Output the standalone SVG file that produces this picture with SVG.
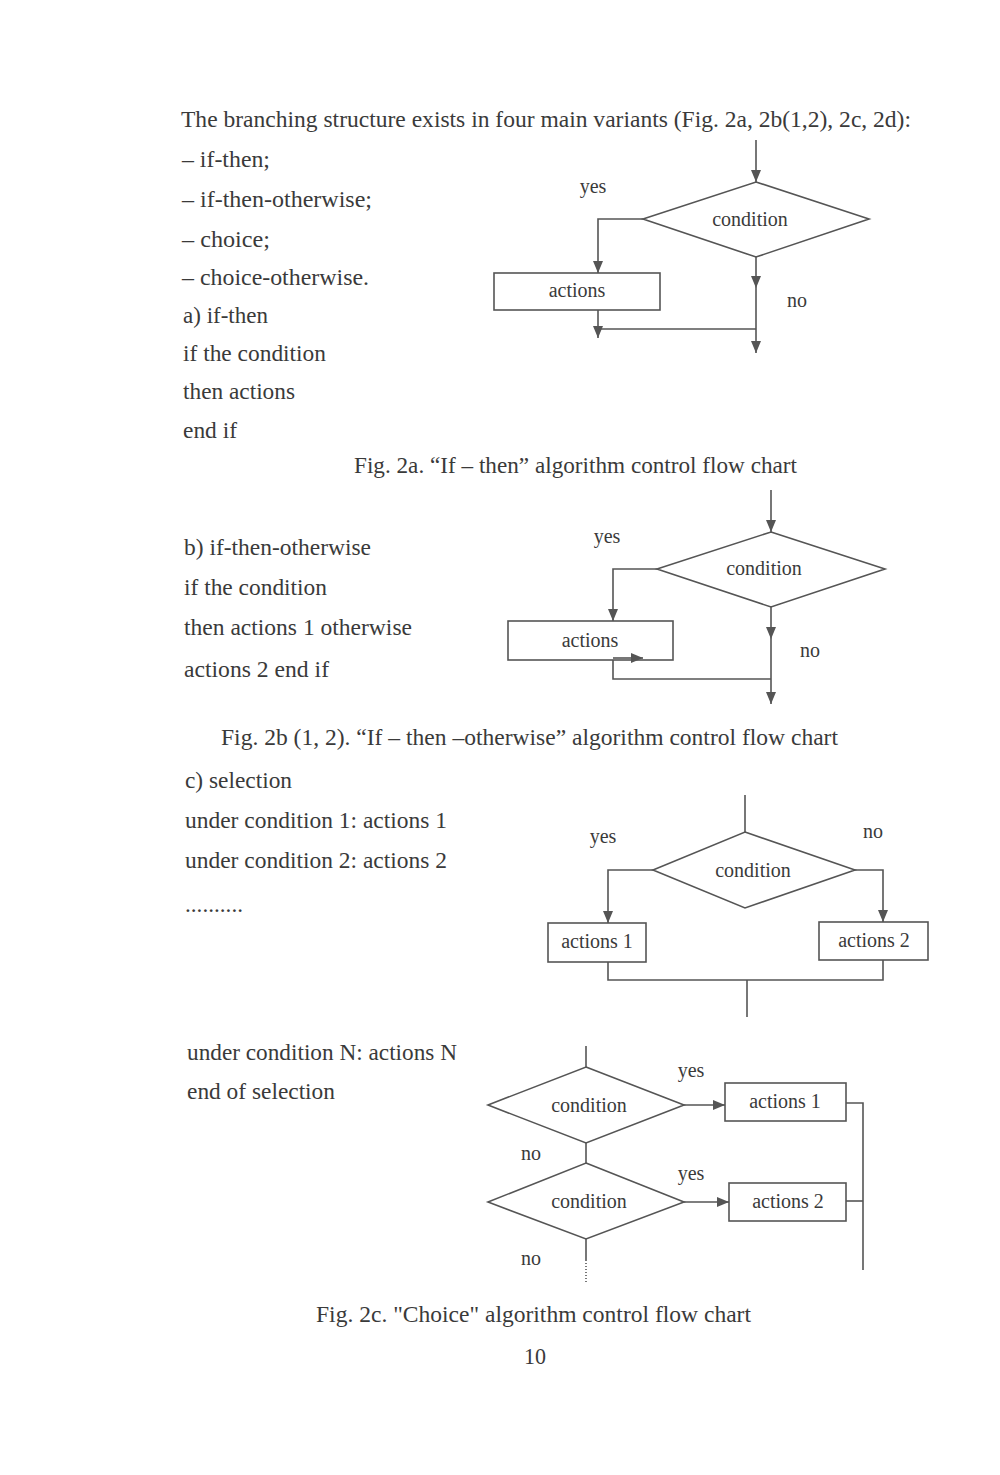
<svg xmlns="http://www.w3.org/2000/svg" width="1000" height="1475" viewBox="0 0 1000 1475">
<defs>
<style>
.t{font-family:"Liberation Serif","Times New Roman",serif;font-size:22.5px;fill:#3a3a3a}
.l{font-family:"Liberation Serif","Times New Roman",serif;font-size:20px;fill:#3a3a3a;text-anchor:middle}
.s{fill:#fff;stroke:#555;stroke-width:1.6}
.c{fill:none;stroke:#555;stroke-width:1.6}
</style>
<marker id="a" markerUnits="userSpaceOnUse" markerWidth="13" markerHeight="11" refX="12" refY="5" orient="auto">
<path d="M0,0 L12,5 L0,10 z" fill="#555"/>
</marker>
</defs>
<rect width="1000" height="1475" fill="#fff"/>

<g id="text">
<text class="t" x="181" y="127" textLength="730" lengthAdjust="spacingAndGlyphs">The branching structure exists in four main variants (Fig. 2a, 2b(1,2), 2c, 2d):</text>
<text class="t" x="182" y="167" textLength="88" lengthAdjust="spacingAndGlyphs">– if-then;</text>
<text class="t" x="182" y="207" textLength="190" lengthAdjust="spacingAndGlyphs">– if-then-otherwise;</text>
<text class="t" x="182" y="247" textLength="88" lengthAdjust="spacingAndGlyphs">– choice;</text>
<text class="t" x="182" y="285" textLength="187" lengthAdjust="spacingAndGlyphs">– choice-otherwise.</text>
<text class="t" x="183" y="323" textLength="85" lengthAdjust="spacingAndGlyphs">a) if-then</text>
<text class="t" x="183" y="361" textLength="143" lengthAdjust="spacingAndGlyphs">if the condition</text>
<text class="t" x="183" y="399" textLength="112" lengthAdjust="spacingAndGlyphs">then actions</text>
<text class="t" x="183" y="438" textLength="54" lengthAdjust="spacingAndGlyphs">end if</text>
<text class="t" x="354" y="473" textLength="443" lengthAdjust="spacingAndGlyphs">Fig. 2a. “If – then” algorithm control flow chart</text>
<text class="t" x="184" y="555" textLength="187" lengthAdjust="spacingAndGlyphs">b) if-then-otherwise</text>
<text class="t" x="184" y="595" textLength="143" lengthAdjust="spacingAndGlyphs">if the condition</text>
<text class="t" x="184" y="635" textLength="228" lengthAdjust="spacingAndGlyphs">then actions 1 otherwise</text>
<text class="t" x="184" y="677" textLength="145" lengthAdjust="spacingAndGlyphs">actions 2 end if</text>
<text class="t" x="221" y="745" textLength="617" lengthAdjust="spacingAndGlyphs">Fig. 2b (1, 2). “If – then –otherwise” algorithm control flow chart</text>
<text class="t" x="185" y="788" textLength="107" lengthAdjust="spacingAndGlyphs">c) selection</text>
<text class="t" x="185" y="828" textLength="262" lengthAdjust="spacingAndGlyphs">under condition 1: actions 1</text>
<text class="t" x="185" y="868" textLength="262" lengthAdjust="spacingAndGlyphs">under condition 2: actions 2</text>
<text class="t" x="185" y="912" textLength="58" lengthAdjust="spacingAndGlyphs">..........</text>
<text class="t" x="187" y="1060" textLength="270" lengthAdjust="spacingAndGlyphs">under condition N: actions N</text>
<text class="t" x="187" y="1099" textLength="148" lengthAdjust="spacingAndGlyphs">end of selection</text>
<text class="t" x="316" y="1322" textLength="435" lengthAdjust="spacingAndGlyphs">Fig. 2c. "Choice" algorithm control flow chart</text>
<text class="t" x="524" y="1364" textLength="22" lengthAdjust="spacingAndGlyphs">10</text>
</g>

<g id="n2a-cond"><polygon class="s" points="756,182 869,219 756,257 643,219"/><text class="l" x="750" y="226">condition</text></g>
<g id="n2a-act"><rect class="s" x="494" y="273" width="166" height="37"/><text class="l" x="577" y="297">actions</text></g>
<g id="n2a-labels"><text class="l" x="593" y="193">yes</text><text class="l" x="797" y="307">no</text></g>

<g id="n2b-cond"><polygon class="s" points="771,532 885,569 771,607 657,569"/><text class="l" x="764" y="575">condition</text></g>
<g id="n2b-act"><rect class="s" x="508" y="621" width="165" height="39"/><text class="l" x="590" y="647">actions</text></g>
<g id="n2b-labels"><text class="l" x="607" y="543">yes</text><text class="l" x="810" y="657">no</text></g>

<g id="n2c-cond"><polygon class="s" points="745,832 855,870 745,908 653,870"/><text class="l" x="753" y="877">condition</text></g>
<g id="n2c-act1"><rect class="s" x="548" y="923" width="98" height="39"/><text class="l" x="597" y="948">actions 1</text></g>
<g id="n2c-act2"><rect class="s" x="819" y="922" width="109" height="38"/><text class="l" x="874" y="947">actions 2</text></g>
<g id="n2c-labels"><text class="l" x="603" y="843">yes</text><text class="l" x="873" y="838">no</text></g>

<g id="n2d-cond1"><polygon class="s" points="586,1067 684,1105 586,1143 488,1105"/><text class="l" x="589" y="1112">condition</text></g>
<g id="n2d-act1"><rect class="s" x="725" y="1083" width="121" height="38"/><text class="l" x="785" y="1108">actions 1</text></g>
<g id="n2d-cond2"><polygon class="s" points="586,1163 684,1202 586,1239 488,1202"/><text class="l" x="589" y="1208">condition</text></g>
<g id="n2d-act2"><rect class="s" x="729" y="1183" width="117" height="38"/><text class="l" x="788" y="1208">actions 2</text></g>
<g id="n2d-labels"><text class="l" x="691" y="1077">yes</text><text class="l" x="691" y="1180">yes</text><text class="l" x="531" y="1160">no</text><text class="l" x="531" y="1265">no</text></g>

<g id="connectors">
<path class="c" d="M756,140 L756,182" marker-end="url(#a)"/>
<path class="c" d="M643,219 L598,219 L598,273" marker-end="url(#a)"/>
<path class="c" d="M598,310 L598,338" marker-end="url(#a)"/>
<path class="c" d="M598,329 L756,329"/>
<path class="c" d="M756,257 L756,288" marker-end="url(#a)"/>
<path class="c" d="M756,288 L756,353" marker-end="url(#a)"/>
<path class="c" d="M771,490 L771,532" marker-end="url(#a)"/>
<path class="c" d="M657,569 L613,569 L613,621" marker-end="url(#a)"/>
<path class="c" d="M613,658 L643,658" marker-end="url(#a)"/>
<path class="c" d="M613,660 L613,679 L771,679"/>
<path class="c" d="M771,607 L771,639" marker-end="url(#a)"/>
<path class="c" d="M771,639 L771,704" marker-end="url(#a)"/>
<path class="c" d="M745,795 L745,832"/>
<path class="c" d="M653,870 L608,870 L608,923" marker-end="url(#a)"/>
<path class="c" d="M855,870 L883,870 L883,922" marker-end="url(#a)"/>
<path class="c" d="M608,962 L608,980 L883,980 L883,960"/>
<path class="c" d="M747,980 L747,1017"/>
<path class="c" d="M586,1046 L586,1067"/>
<path class="c" d="M684,1105 L725,1105" marker-end="url(#a)"/>
<path class="c" d="M586,1143 L586,1163"/>
<path class="c" d="M684,1202 L729,1202" marker-end="url(#a)"/>
<path class="c" d="M586,1239 L586,1260"/>
<path class="c" d="M586,1260 L586,1282" stroke-dasharray="1,2"/>
<path class="c" d="M846,1103 L863,1103 L863,1270"/>
<path class="c" d="M846,1201 L863,1201"/>
</g>
</svg>
